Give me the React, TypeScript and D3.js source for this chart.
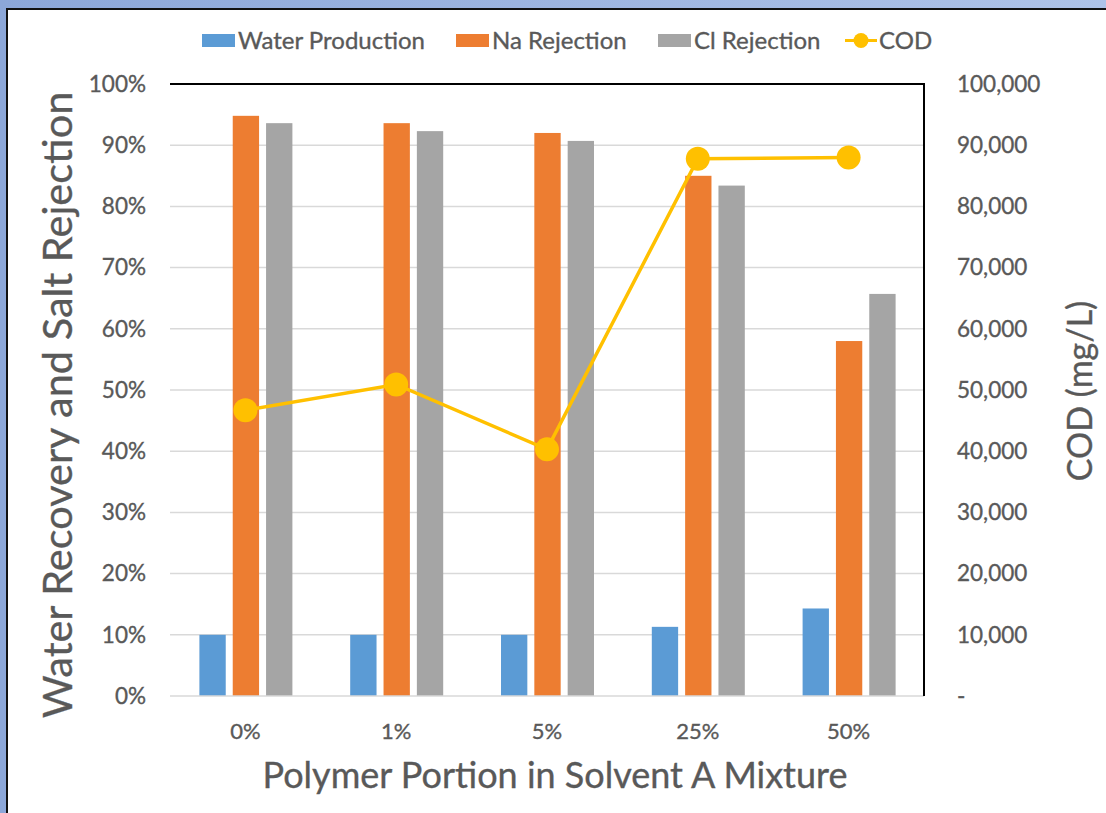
import React from "react";
import * as d3 from "d3";

// Categories and series
const categories = ["0%", "1%", "5%", "25%", "50%"];
const waterProduction = [0.10, 0.10, 0.10, 0.113, 0.143];
const naRejection = [0.948, 0.936, 0.920, 0.850, 0.580];
const clRejection = [0.936, 0.923, 0.907, 0.834, 0.657];
const cod = [46700, 50900, 40300, 87800, 88000];

const leftTicks = [0, 0.1, 0.2, 0.3, 0.4, 0.5, 0.6, 0.7, 0.8, 0.9, 1.0];
const rightTicks = [0, 10000, 20000, 30000, 40000, 50000, 60000, 70000, 80000, 90000, 100000];

const seriesNames = ["Water Production", "Na Rejection", "Cl Rejection"];
const seriesColors = ["#5B9BD5", "#ED7D31", "#A5A5A5"];
const codColor = "#FFC000";

const W = 1106;
const H = 813;
const plot = { left: 170, right: 924, top: 84, bottom: 696 };
const FONT = "Lato, 'Open Sans', sans-serif";
const TEXT = "#595959";

// light outline thickens the text a little
const textStyle = { stroke: TEXT, strokeWidth: 0.35 };

export default function App() {
  const x = d3.scaleBand<string>().domain(categories).range([plot.left, plot.right]);
  const inner = d3
    .scaleBand<string>()
    .domain(seriesNames)
    .range([0, 93])
    .paddingInner(0.21);
  const groupOffset = (x.bandwidth() - 93) / 2 + 0.5;
  const yL = d3.scaleLinear().domain([0, 1]).range([plot.bottom, plot.top]);
  const yR = d3.scaleLinear().domain([0, 100000]).range([plot.bottom, plot.top]);

  const seriesData = [waterProduction, naRejection, clRejection];
  const cx = (c: string) => (x(c) as number) + x.bandwidth() / 2;
  const line = d3
    .line<number>()
    .x((_, i) => cx(categories[i]))
    .y((d) => yR(d));

  const pct = d3.format(".0%");
  const comma = d3.format(",");

  const legendItems = [
    { name: "Water Production", x: 202, color: seriesColors[0] },
    { name: "Na Rejection", x: 456, color: seriesColors[1] },
    { name: "Cl Rejection", x: 658, color: seriesColors[2] },
  ];

  return (
    <svg width={W} height={H} style={{ position: "absolute", left: 0, top: 0 }}>
      <defs>
        <linearGradient id="frameBg" x1="0" y1="0" x2="1" y2="0">
          <stop offset="0" stopColor="#8CA7D9" />
          <stop offset="1" stopColor="#AEC3E8" />
        </linearGradient>
      </defs>
      <rect x={0} y={0} width={W} height={H} fill="url(#frameBg)" />
      <rect x={7} y={9} width={W + 10} height={H + 10} fill="#FFFFFF" stroke="#111" strokeWidth={2} />

      {/* gridlines */}
      {leftTicks.slice(1, -1).map((t) => (
        <line key={t} x1={plot.left} x2={plot.right} y1={yL(t)} y2={yL(t)} stroke="#D9D9D9" strokeWidth={1.5} />
      ))}
      {/* bars */}
      {seriesData.map((vals, si) =>
        vals.map((v, i) => (
          <rect
            key={`${si}-${i}`}
            x={(x(categories[i]) as number) + groupOffset + (inner(seriesNames[si]) as number)}
            y={yL(v)}
            width={inner.bandwidth()}
            height={plot.bottom - yL(v)}
            fill={seriesColors[si]}
          />
        ))
      )}
      {/* plot frame */}
      <line x1={plot.left} x2={plot.right} y1={plot.bottom} y2={plot.bottom} stroke="#D9D9D9" strokeWidth={1.5} />
      <line x1={plot.left} x2={plot.right + 1} y1={plot.top} y2={plot.top} stroke="#000" strokeWidth={2} />
      <line x1={plot.right} x2={plot.right} y1={plot.top} y2={plot.bottom} stroke="#000" strokeWidth={2} />

      {/* COD line */}
      <path d={line(cod) as string} fill="none" stroke={codColor} strokeWidth={3.5} />
      {cod.map((v, i) => (
        <circle key={i} cx={cx(categories[i])} cy={yR(v)} r={12} fill={codColor} />
      ))}

      {/* left axis labels */}
      {leftTicks.map((t) => (
        <text key={t} x={146} y={yL(t)} dy="0.35em" textAnchor="end" fontFamily={FONT} fontSize={22.5} fill={TEXT} style={textStyle}>
          {pct(t)}
        </text>
      ))}
      {/* right axis labels */}
      {rightTicks.map((t) => (
        <text key={t} x={957} y={yR(t)} dy="0.35em" textAnchor="start" fontFamily={FONT} fontSize={22.5} fill={TEXT} style={textStyle}>
          {t === 0 ? "-" : comma(t)}
        </text>
      ))}
      {/* category labels */}
      {categories.map((c) => (
        <text key={c} x={cx(c)} y={731} dy="0.35em" textAnchor="middle" fontFamily={FONT} fontSize={22} fill={TEXT} style={textStyle}>
          {c}
        </text>
      ))}

      {/* axis titles */}
      <text x={555} y={775} dy="0.35em" textAnchor="middle" fontFamily={FONT} fontSize={36} fill={TEXT} style={textStyle}>
        Polymer Portion in Solvent A Mixture
      </text>
      <text
        transform={`translate(57,405) rotate(-90)`}
        dy="0.35em"
        textAnchor="middle"
        fontFamily={FONT}
        fontSize={41.5}
        fill={TEXT}
        style={textStyle}
      >
        Water Recovery and Salt Rejection
      </text>
      <text
        transform={`translate(1080,391) rotate(-90)`}
        dy="0.35em"
        textAnchor="middle"
        fontFamily={FONT}
        fontSize={34}
        fill={TEXT}
        style={textStyle}
      >
        COD (mg/L)
      </text>

      {/* legend */}
      {legendItems.map((l) => (
        <g key={l.name}>
          <rect x={l.x} y={34} width={33} height={13} fill={l.color} />
          <text x={l.x + 36} y={40.5} dy="0.35em" fontFamily={FONT} fontSize={24} fill={TEXT} style={textStyle}>
            {l.name}
          </text>
        </g>
      ))}
      <line x1={845} x2={877} y1={40.5} y2={40.5} stroke={codColor} strokeWidth={3} />
      <circle cx={861} cy={40.5} r={7.5} fill={codColor} />
      <text x={879} y={40.5} dy="0.35em" fontFamily={FONT} fontSize={24} fill={TEXT} style={textStyle}>
        COD
      </text>
    </svg>
  );
}
